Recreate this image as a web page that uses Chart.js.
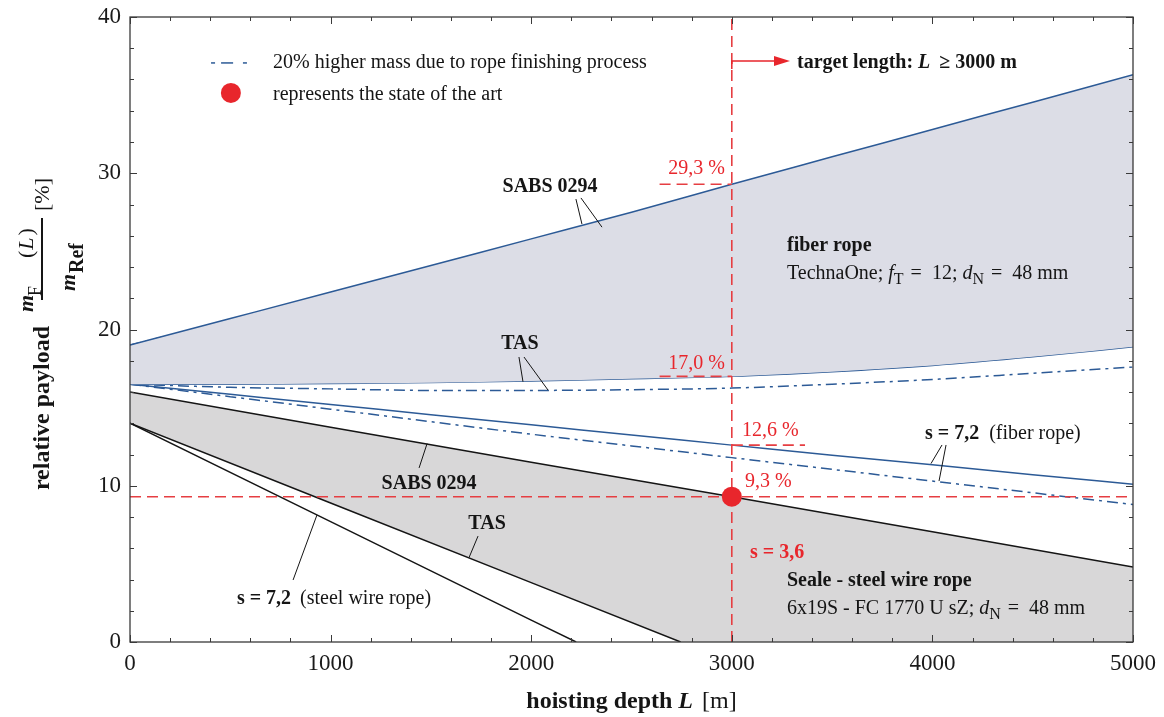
<!DOCTYPE html>
<html>
<head>
<meta charset="utf-8">
<script src="https://cdn.jsdelivr.net/npm/chart.js@4/dist/chart.umd.min.js"></script>
<style>
  html, body { margin: 0; padding: 0; background: #ffffff; }
  #wrap { width: 1164px; height: 717px; position: relative; }
</style>
</head>
<body>
<div id="wrap"><canvas id="c" width="1164" height="717"></canvas></div>
<script>
// ---------------- data ----------------
const depth = [0, 500, 1000, 1500, 2000, 2500, 3000, 3500, 4000, 4500, 5000];
const fiberSabs      = [19.0, 20.7, 22.4, 24.1, 25.8, 27.5, 29.3, 31.05, 32.8, 34.55, 36.3];
const fiberSabsHeavy = [19.0, 20.6, 22.2, 23.8, 25.4, 27.0, 28.6, 30.2, 31.8, 33.4, 35.0];
const fiberTas       = [16.5, 16.5, 16.55, 16.6, 16.7, 16.85, 17.0, 17.3, 17.7, 18.25, 18.9];
const fiberTasHeavy  = [16.5, 16.3, 16.2, 16.1, 16.1, 16.15, 16.25, 16.5, 16.8, 17.2, 17.6];
const fiberS72       = [16.5, 15.85, 15.2, 14.55, 13.9, 13.25, 12.6, 11.95, 11.35, 10.7, 10.1];
const fiberS72Heavy  = [16.5, 15.7, 14.9, 14.1, 13.3, 12.55, 11.8, 11.05, 10.3, 9.55, 8.8];

const steelDepth = [0, 1000, 2000, 3000, 4000, 5000];
const steelSabs  = [16.0, 13.75, 11.5, 9.3, 7.05, 4.8];
const steelTasDepth = [0, 1000, 2000, 2745];
const steelTas      = [14.0, 8.9, 3.8, 0];
const steelS72Depth = [0, 1000, 2000, 2224];
const steelS72      = [14.0, 7.7, 1.4, 0];

const targetDepth = 3000;
const stateOfArt = 9.3;
const markFiberSabs = 29.3;
const markFiberTas = 17.0;
const markFiberS72 = 12.6;

const xTicks = [0, 1000, 2000, 3000, 4000, 5000];
const yTicks = [0, 10, 20, 30, 40];

// ---------------- styles ----------------
const BLUE = '#2c5a96';
const BLACK = '#151515';
const RED = '#e8262c';
const REDLINE = '#e63e42';
const FIBER_FILL = '#dcdde6';
const STEEL_FILL = '#d8d7d8';
const SERIF = "'Liberation Serif', 'Times New Roman', serif";
const DASHDOT = [11, 5, 3, 5];
const REDDASH = [11, 6];

const pts = (xs, ys) => xs.map((x, i) => ({ x: x, y: ys[i] }));

const datasets = [
  // 0 red dot (top)
  { data: [{ x: targetDepth, y: stateOfArt }], showLine: false, pointRadius: 10, pointHoverRadius: 10,
    pointBackgroundColor: RED, pointBorderWidth: 0, borderColor: RED },
  // 1 vertical red dashed
  { data: [{ x: targetDepth, y: 0 }, { x: targetDepth, y: 40 }], borderColor: REDLINE, borderWidth: 1.6, borderDash: REDDASH, pointRadius: 0 },
  // 2 horizontal red dashed
  { data: [{ x: 0, y: stateOfArt }, { x: 5000, y: stateOfArt }], borderColor: REDLINE, borderWidth: 1.6, borderDash: REDDASH, pointRadius: 0 },
  // 3-5 short red marks
  { data: [{ x: 2640, y: markFiberSabs }, { x: targetDepth, y: markFiberSabs }], borderColor: REDLINE, borderWidth: 1.6, borderDash: REDDASH, pointRadius: 0 },
  { data: [{ x: 2640, y: markFiberTas }, { x: targetDepth, y: markFiberTas }], borderColor: REDLINE, borderWidth: 1.6, borderDash: REDDASH, pointRadius: 0 },
  { data: [{ x: targetDepth, y: markFiberS72 }, { x: 3365, y: markFiberS72 }], borderColor: REDLINE, borderWidth: 1.6, borderDash: REDDASH, pointRadius: 0 },
  // 6 fiber SABS (fill to fiber TAS = 8)
  { data: pts(depth, fiberSabs), borderColor: BLUE, borderWidth: 1.5, pointRadius: 0, cubicInterpolationMode: 'monotone', fill: 8, backgroundColor: FIBER_FILL },
  // 7
  { data: pts(depth, fiberSabsHeavy), borderColor: BLUE, borderWidth: 1.5, borderDash: DASHDOT, pointRadius: 0, cubicInterpolationMode: 'monotone' },
  // 8
  { data: pts(depth, fiberTas), borderColor: BLUE, borderWidth: 1.5, pointRadius: 0, cubicInterpolationMode: 'monotone' },
  // 9
  { data: pts(depth, fiberTasHeavy), borderColor: BLUE, borderWidth: 1.5, borderDash: DASHDOT, pointRadius: 0, cubicInterpolationMode: 'monotone' },
  // 10
  { data: pts(depth, fiberS72), borderColor: BLUE, borderWidth: 1.5, pointRadius: 0, cubicInterpolationMode: 'monotone' },
  // 11
  { data: pts(depth, fiberS72Heavy), borderColor: BLUE, borderWidth: 1.5, borderDash: DASHDOT, pointRadius: 0, cubicInterpolationMode: 'monotone' },
  // 12 steel s=7.2
  { data: pts(steelS72Depth, steelS72), borderColor: BLACK, borderWidth: 1.5, pointRadius: 0 },
  // 13 steel TAS (white fill below, drawn above the grey)
  { data: pts(steelTasDepth, steelTas), borderColor: BLACK, borderWidth: 1.5, pointRadius: 0, fill: 'origin', backgroundColor: '#ffffff' },
  // 14 steel SABS (grey fill below)
  { data: pts(steelDepth, steelSabs), borderColor: BLACK, borderWidth: 1.5, pointRadius: 0, fill: 'origin', backgroundColor: STEEL_FILL }
];

// ---------------- annotations (in data units) ----------------
const leaders = [
  [2223, 28.35, 2253, 26.75],
  [2248, 28.42, 2353, 26.55],
  [1939, 18.24, 1959, 16.66],
  [1964, 18.24, 2084, 16.12],
  [4048, 12.61, 3993, 11.42],
  [4068, 12.61, 4033, 10.30],
  [1441, 11.14, 1481, 12.70],
  [1735, 6.78, 1690, 5.40],
  [813, 3.97, 932, 8.13]
];

function rich(ctx, x, y, runs, align, rot) {
  ctx.save();
  ctx.translate(x, y);
  if (rot) ctx.rotate(-Math.PI / 2);
  ctx.textBaseline = 'alphabetic';
  ctx.textAlign = 'left';
  let w = 0;
  for (const r of runs) { ctx.font = r.f; w += ctx.measureText(r.t).width + (r.k || 0); }
  let p = align === 'center' ? -w / 2 : (align === 'right' ? -w : 0);
  for (const r of runs) {
    ctx.font = r.f;
    ctx.fillStyle = r.c || '#151515';
    ctx.fillText(r.t, p, r.dy || 0);
    p += ctx.measureText(r.t).width + (r.k || 0);
  }
  ctx.restore();
}
const F = (s, st) => (st ? st + ' ' : '') + s + 'px ' + SERIF;

const decor = {
  id: 'decor',
  afterDatasetsDraw(chart) {
    const ctx = chart.ctx;
    const xs = chart.scales.x, ys = chart.scales.y;
    const X = v => xs.getPixelForValue(v), Y = v => ys.getPixelForValue(v);

    // leader lines
    ctx.save();
    ctx.strokeStyle = '#151515';
    ctx.lineWidth = 1;
    for (const l of leaders) {
      ctx.beginPath(); ctx.moveTo(X(l[0]), Y(l[1])); ctx.lineTo(X(l[2]), Y(l[3])); ctx.stroke();
    }
    ctx.restore();

    // legend
    ctx.save();
    ctx.strokeStyle = BLUE; ctx.lineWidth = 1.5;
    const ly = Y(37.06);
    const segs = [[404, 424], [454, 514], [563, 583]];
    for (const s of segs) { ctx.beginPath(); ctx.moveTo(X(s[0]), ly); ctx.lineTo(X(s[1]), ly); ctx.stroke(); }
    ctx.fillStyle = RED;
    ctx.beginPath(); ctx.arc(X(503), Y(35.14), 10, 0, Math.PI * 2); ctx.fill();
    ctx.restore();
    rich(ctx, X(713), Y(36.74), [{ t: '20% higher mass due to rope finishing process', f: F(20) }], 'left');
    rich(ctx, X(713), Y(34.69), [{ t: 'represents the state of the art', f: F(20) }], 'left');

    // target arrow
    ctx.save();
    ctx.strokeStyle = RED; ctx.fillStyle = RED; ctx.lineWidth = 1.5;
    const ay = Y(37.18), ax0 = X(targetDepth), ax1 = X(3290);
    ctx.beginPath(); ctx.moveTo(ax0, ay + 8); ctx.lineTo(ax0, ay); ctx.lineTo(ax1 - 12, ay); ctx.stroke();
    ctx.beginPath(); ctx.moveTo(ax1, ay); ctx.lineTo(ax1 - 16, ay - 5); ctx.lineTo(ax1 - 16, ay + 5); ctx.closePath(); ctx.fill();
    ctx.restore();
    rich(ctx, X(3325), Y(36.74), [
      { t: 'target length: ', f: F(20, 'bold') },
      { t: 'L', f: F(20, 'italic bold'), k: 4 },
      { t: ' \u2265 3000 m', f: F(20, 'bold') }
    ], 'left');

    // red value labels
    rich(ctx, X(2966), Y(29.95), [{ t: '29,3 %', f: F(20), c: RED }], 'right');
    rich(ctx, X(2966), Y(17.47), [{ t: '17,0 %', f: F(20), c: RED }], 'right');
    rich(ctx, X(3051), Y(13.18), [{ t: '12,6 %', f: F(20), c: RED }], 'left');
    rich(ctx, X(3066), Y(9.92), [{ t: '9,3 %', f: F(20), c: RED }], 'left');
    rich(ctx, X(3091), Y(5.38), [{ t: 's = 3,6', f: F(20, 'bold'), c: RED }], 'left');

    // fiber rope block
    rich(ctx, X(3275), Y(25.02), [{ t: 'fiber rope', f: F(20, 'bold') }], 'left');
    rich(ctx, X(3275), Y(23.23), [
      { t: 'TechnaOne; ', f: F(20) },
      { t: 'f', f: F(20, 'italic') },
      { t: 'T', f: F(16), dy: 5, k: 2 },
      { t: ' =  12; ', f: F(20) },
      { t: 'd', f: F(20, 'italic') },
      { t: 'N', f: F(16), dy: 5, k: 2 },
      { t: ' =  48 mm', f: F(20) }
    ], 'left');

    // steel block
    rich(ctx, X(3275), Y(3.58), [{ t: 'Seale - steel wire rope', f: F(20, 'bold') }], 'left');
    rich(ctx, X(3275), Y(1.79), [
      { t: '6x19S - FC 1770 U sZ; ', f: F(20) },
      { t: 'd', f: F(20, 'italic') },
      { t: 'N', f: F(16), dy: 5, k: 2 },
      { t: ' =  48 mm', f: F(20) }
    ], 'left');

    // curve labels
    rich(ctx, X(2094), Y(28.8), [{ t: 'SABS 0294', f: F(20, 'bold') }], 'center');
    rich(ctx, X(1944), Y(18.75), [{ t: 'TAS', f: F(20, 'bold') }], 'center');
    rich(ctx, X(1491), Y(9.79), [{ t: 'SABS 0294', f: F(20, 'bold') }], 'center');
    rich(ctx, X(1780), Y(7.23), [{ t: 'TAS', f: F(20, 'bold') }], 'center');
    rich(ctx, X(3963), Y(12.99), [{ t: 's = 7,2', f: F(20, 'bold'), k: 5 }, { t: ' (fiber rope)', f: F(20) }], 'left');
    rich(ctx, X(533), Y(2.43), [{ t: 's = 7,2', f: F(20, 'bold'), k: 4 }, { t: ' (steel wire rope)', f: F(20) }], 'left');
  },
  afterDraw(chart) {
    const ctx = chart.ctx;
    const xs = chart.scales.x, ys = chart.scales.y;
    const a = chart.chartArea;
    // frame and inward ticks on all four sides
    ctx.save();
    ctx.strokeStyle = '#3a3a3a';
    ctx.lineWidth = 1.3;
    ctx.strokeRect(a.left, a.top, a.right - a.left, a.bottom - a.top);
    ctx.lineWidth = 1;
    ctx.beginPath();
    for (let v = 0; v <= 5000; v += 200) {
      const p = Math.round(xs.getPixelForValue(v)) + 0.5;
      const len = (v % 1000 === 0) ? 7 : 4;
      ctx.moveTo(p, a.bottom); ctx.lineTo(p, a.bottom - len);
      ctx.moveTo(p, a.top); ctx.lineTo(p, a.top + len);
    }
    for (let v = 0; v <= 40; v += 2) {
      const p = Math.round(ys.getPixelForValue(v)) + 0.5;
      const len = (v % 10 === 0) ? 7 : 4;
      ctx.moveTo(a.left, p); ctx.lineTo(a.left + len, p);
      ctx.moveTo(a.right, p); ctx.lineTo(a.right - len, p);
    }
    ctx.stroke();
    ctx.restore();

    // x axis title
    rich(ctx, (a.left + a.right) / 2, a.bottom + 66, [
      { t: 'hoisting depth ', f: F(24, 'bold') },
      { t: 'L', f: F(24, 'italic bold'), k: 3 },
      { t: ' [m]', f: F(24) }
    ], 'center');

    // y axis title (rotated)
    const L0 = a.left;
    rich(ctx, L0 - 81, 408, [{ t: 'relative payload', f: F(24, 'bold') }], 'center', true);
    // fraction numerator m_F (L)
    rich(ctx, L0 - 97, 312, [{ t: 'm', f: F(22, 'italic bold') }], 'left', true);
    rich(ctx, L0 - 89, 296, [{ t: 'F', f: F(18) }], 'left', true);
    rich(ctx, L0 - 97, 258, [
      { t: '(', f: F(22), k: 1 },
      { t: 'L', f: F(22, 'italic'), k: 2 },
      { t: ')', f: F(22) }
    ], 'left', true);
    // fraction bar
    ctx.save();
    ctx.strokeStyle = '#151515'; ctx.lineWidth = 2;
    ctx.beginPath(); ctx.moveTo(L0 - 88, 300); ctx.lineTo(L0 - 88, 218); ctx.stroke();
    ctx.restore();
    // denominator m_Ref
    rich(ctx, L0 - 55, 291, [{ t: 'm', f: F(22, 'italic bold') }], 'left', true);
    rich(ctx, L0 - 47, 273, [{ t: 'Ref', f: F(20, 'bold') }], 'left', true);
    // [%]
    rich(ctx, L0 - 81, 211, [{ t: '[%]', f: F(22) }], 'left', true);
  }
};

new Chart(document.getElementById('c'), {
  type: 'line',
  data: { datasets: datasets },
  plugins: [decor],
  options: {
    responsive: false,
    animation: false,
    events: [],
    layout: { padding: { top: 17, right: 31, left: 0, bottom: 0 } },
    elements: { line: { tension: 0 } },
    plugins: { legend: { display: false }, tooltip: { enabled: false }, filler: { propagate: false } },
    scales: {
      x: {
        type: 'linear', min: 0, max: 5000,
        afterFit: s => { s.height = 75; s.paddingLeft = 0; s.paddingRight = 0; },
        afterBuildTicks: s => { s.ticks = xTicks.map(v => ({ value: v })); },
        ticks: { font: { family: SERIF, size: 23 }, color: '#1a1a1a', padding: 8, maxRotation: 0, autoSkip: false,
                 callback: v => String(v) },
        grid: { display: false, drawTicks: false },
        border: { display: false }
      },
      y: {
        type: 'linear', min: 0, max: 40,
        afterFit: s => { s.width = 130; s.paddingTop = 0; s.paddingBottom = 0; },
        afterBuildTicks: s => { s.ticks = yTicks.map(v => ({ value: v })); },
        ticks: { font: { family: SERIF, size: 23 }, color: '#1a1a1a', padding: 9, autoSkip: false,
                 callback: v => String(v) },
        grid: { display: false, drawTicks: false },
        border: { display: false }
      }
    }
  }
});
</script>
</body>
</html>
